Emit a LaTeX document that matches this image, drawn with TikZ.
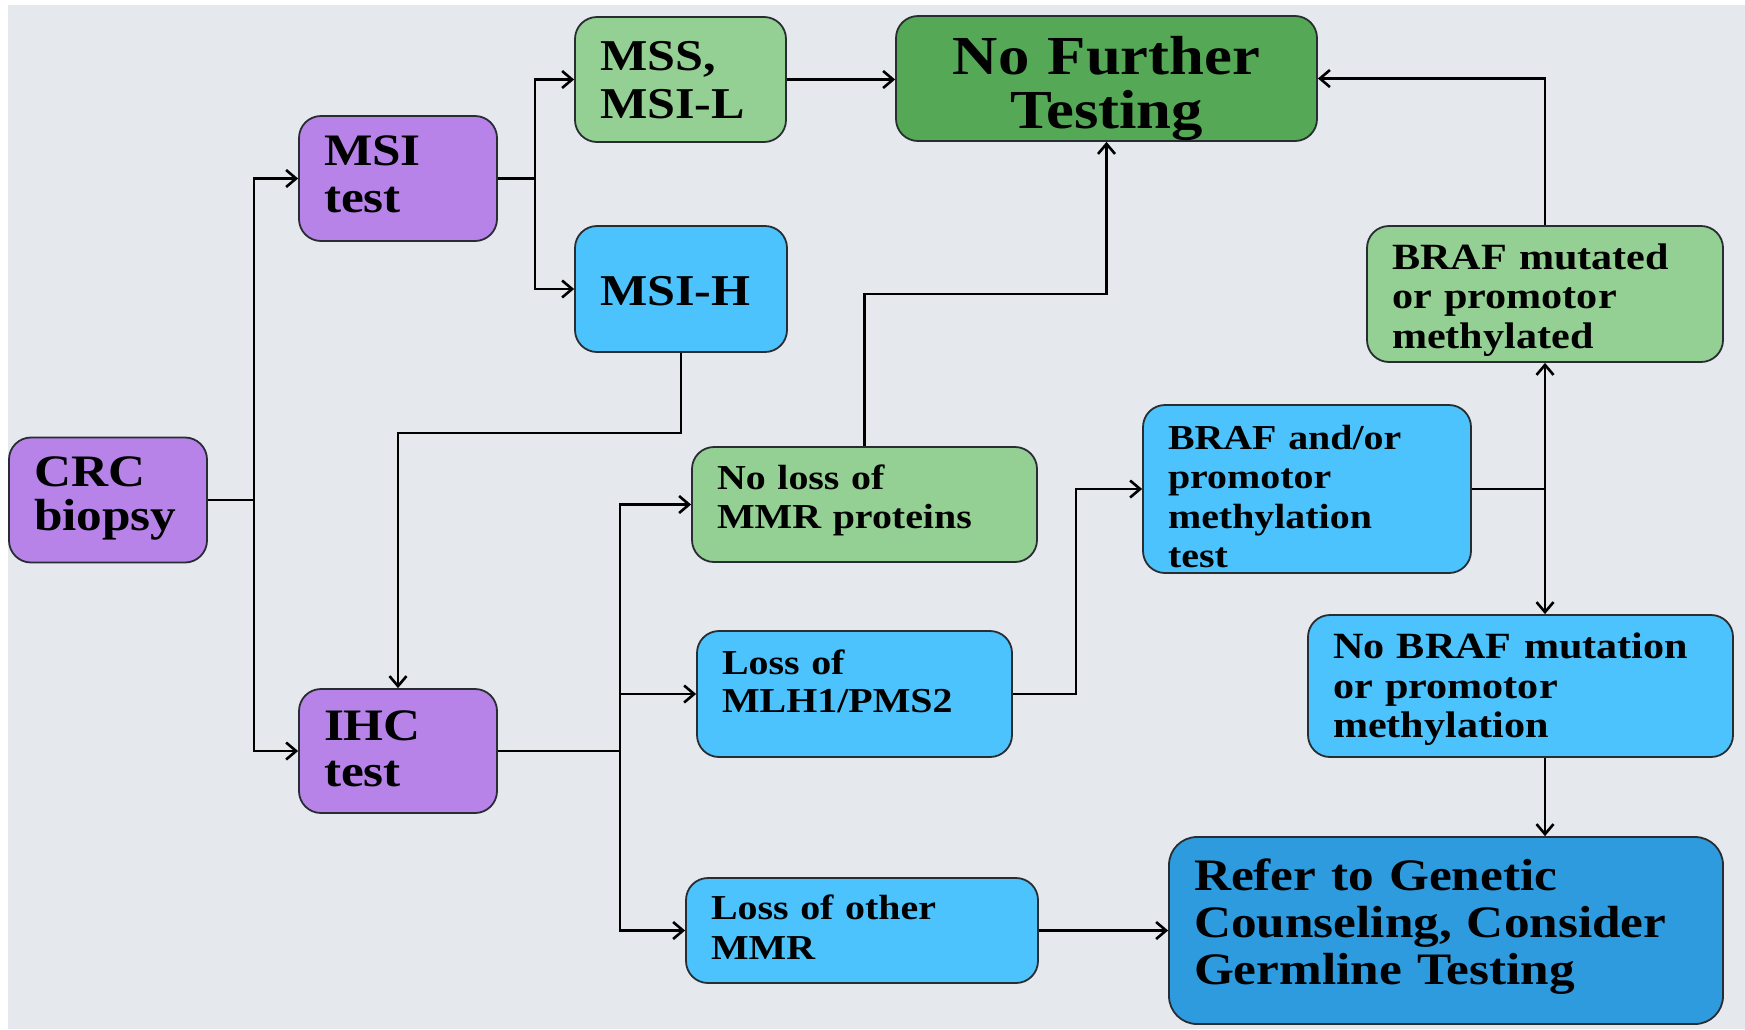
\documentclass[tikz,border=0pt]{standalone}
\usepackage{fontspec}
\newfontfamily\tb{Liberation Serif}[FakeStretch=1.14]
\usetikzlibrary{arrows.meta,calc}
\definecolor{bgc}{RGB}{229,232,236}
\definecolor{purp}{RGB}{183,131,233}
\definecolor{lgreen}{RGB}{148,207,148}
\definecolor{dgreen}{RGB}{84,168,86}
\definecolor{lblue}{RGB}{76,195,252}
\definecolor{dblue}{RGB}{46,155,222}
\definecolor{edge}{RGB}{40,45,50}
\newcommand\setfs[2]{\tb\bfseries\fontsize{#1}{#2}\selectfont\fontdimen2\font=0.285em\fontdimen3\font=0.1em\fontdimen4\font=0.05em\relax}
\tikzset{
  box/.style={draw=edge, line width=1.8pt, rounded corners=22pt, inner xsep=25pt, inner ysep=0pt, anchor=center},
  bx/.style={box, minimum width=#1pt, text width=#1pt-50pt, align=left},
  hd/.style 2 args={text height=#1pt, text depth=#2pt},
  fs/.style 2 args={font={\setfs{#1}{#2}}},
  conn/.style={draw=black, line width=2.9pt},
  arr/.style={conn, -{Straight Barb[length=10pt,width=17pt,line width=2.6pt]}},
}
\begin{document}
\begin{tikzpicture}[x=1pt,y=-1pt]
\useasboundingbox (0,0) rectangle (1745,1029);
\fill[white] (0,0) rectangle (1745,1029);
\fill[bgc] (8,5) rectangle (1745,1029);

% nodes
\node[bx=198, hd={49.3}{75.7}, fill=purp, fs={45}{44}] (crc) at (108,500) {CRC\\biopsy};
\node[bx=198, hd={49.8}{75.2}, fill=purp, fs={45}{46.5}] (msi) at (398,178.5) {MSI\\test};
\node[bx=198, hd={51}{73}, fill=purp, fs={45}{46}] (ihc) at (398,751) {IHC\\test};
\node[bx=211, hd={53.1}{71.9}, fill=lgreen, fs={44}{48}] (mss) at (680.5,79.5) {MSS,\\MSI-L};
\node[bx=212, hd={79}{47}, fill=lblue, fs={44}{48}] (msih) at (681,289) {MSI-H};
\node[box, minimum width=421pt, text width=371pt, align=center, hd={58.6}{66.4}, fill=dgreen, fs={55}{54}] (nft) at (1106.5,78.5) {No Further\\Testing};
\node[bx=345, hd={42.7}{72.3}, fill=lgreen, fs={35}{39}] (noloss) at (864.5,504.5) {No loss of\\MMR proteins};
\node[bx=315, hd={43.4}{82.6}, fill=lblue, fs={35}{38}] (mlh) at (854.5,694) {Loss of\\MLH1/PMS2};
\node[bx=352, hd={41.3}{63.7}, fill=lblue, fs={35}{40}] (other) at (862,930.5) {Loss of other\\MMR};
\node[bx=328, hd={44.6}{123.4}, fill=lblue, fs={35}{39.3}] (braft) at (1307,489) {BRAF and/or\\promotor\\methylation\\test};
\node[bx=356, hd={43.3}{92.7}, fill=lgreen, fs={37}{39.5}] (brafm) at (1545,294) {BRAF mutated\\or promotor\\methylated};
\node[bx=425, hd={43.8}{98.2}, fill=lblue, fs={37}{39.5}] (nobraf) at (1520.5,686) {No BRAF mutation\\or promotor\\methylation};
\node[bx=554, hd={53.3}{133.7}, fill=dblue, rounded corners=28pt, fs={45}{47}] (refer) at (1446,930.5) {Refer to Genetic\\Counseling, Consider\\Germline Testing};

% helper coordinates
\coordinate (j1) at (254,500);
\coordinate (j2) at (535,178.5);
\coordinate (j3) at (620,751);
\coordinate (h1) at (0,433);
\coordinate (h2) at (0,294);
\coordinate (v2) at (1076,0);

% connectors
\draw[conn] (crc.east) -- (j1);
\draw[arr] (j1) |- (msi.west);
\draw[arr] (j1) |- (ihc.west);
\draw[conn] (msi.east) -- (j2);
\draw[arr] (j2) |- (mss.west);
\draw[arr] (j2) |- (msih.west);
\draw[arr] (mss.east) -- (nft.west |- mss.east);
\draw[arr] (msih.south) -- (msih.south |- h1) -| (ihc.north);
\draw[conn] (ihc.east) -- (j3);
\draw[arr] (j3) |- (noloss.west);
\draw[arr] (j3) |- (mlh.west);
\draw[arr] (j3) |- (other.west);
\draw[arr] (noloss.north) -- (noloss.north |- h2) -| (nft.south);
\draw[arr] (mlh.east) -- (mlh.east -| v2) |- (braft.west);
\draw[arr] (braft.east) -| (brafm.south);
\draw[arr] (braft.east) -| (nobraf.north -| brafm.south);
\draw[arr] (brafm.north) |- (nft.east);
\draw[arr] (nobraf.south -| brafm.south) -- (refer.north -| brafm.south);
\draw[arr] (other.east) -- (refer.west |- other.east);
\end{tikzpicture}
\end{document}
